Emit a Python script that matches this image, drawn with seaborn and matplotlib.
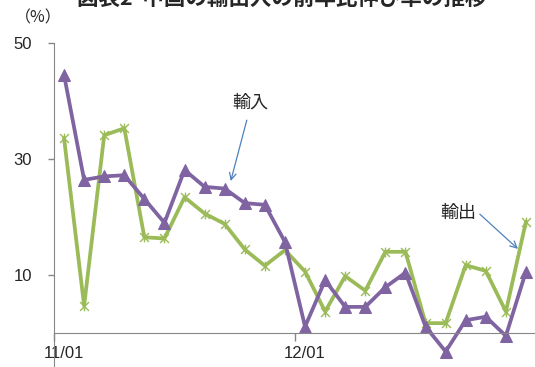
import matplotlib
matplotlib.use("Agg")
import matplotlib.pyplot as plt
from matplotlib.path import Path
import pandas as pd
import seaborn as sns

# monthly y/y growth, 2011/01 - 2012/12 (%)
months = pd.period_range("2011-01", "2012-12", freq="M").strftime("%y/%m").tolist()
imports = [44.5, 26.4, 27.0, 27.2, 23.1, 19.0, 28.1, 25.2, 24.9, 22.4, 22.1, 15.7,
           1.1, 9.1, 4.5, 4.5, 7.9, 10.4, 1.1, -3.2, 2.2, 2.8, -0.5, 10.6]
exports = [33.6, 4.7, 34.1, 35.3, 16.5, 16.3, 23.4, 20.6, 18.8, 14.4, 11.6, 14.3,
           10.6, 3.7, 9.8, 7.3, 14.0, 14.0, 1.7, 1.7, 11.7, 10.7, 3.7, 19.2]
tick_labels = ["11/01", "12/01"]
y_ticks = [10, 30, 50]

df = pd.DataFrame({"idx": range(len(months)), "month": months,
                   "輸入": imports, "輸出": exports})

sns.set_style("white")
plt.rcParams["font.family"] = ["Liberation Sans", "Noto Sans CJK JP", "DejaVu Sans"]

W, H = 535, 367
fig = plt.figure(figsize=(W / 100, H / 100), dpi=100)
ax = fig.add_axes([54 / W, 0, (536 - 54) / W, (367 - 43) / H])

star = Path([(-1, -1), (1, 1), (-1, 1), (1, -1), (0, -1.1), (0, 1.1)],
            [Path.MOVETO, Path.LINETO, Path.MOVETO, Path.LINETO, Path.MOVETO, Path.LINETO])

green = "#9BBB59"
purple = "#8064A2"
sns.lineplot(data=df, x="idx", y="輸出", ax=ax, color=green, lw=2.7,
             marker=star, markersize=7, markeredgewidth=1.0,
             markeredgecolor=green, markerfacecolor="none")
sns.lineplot(data=df, x="idx", y="輸入", ax=ax, color=purple, lw=2.7,
             marker="^", markersize=9, markeredgecolor=purple, markerfacecolor=purple)

ax.set_xlim(-0.5, len(months) - 0.5)
ax.set_ylim(-(367 - 333) / 5.8, 50)

axis_gray = "#868686"
for s in ["top", "right"]:
    ax.spines[s].set_visible(False)
ax.spines["left"].set_color(axis_gray)
ax.spines["bottom"].set_color(axis_gray)
ax.spines["bottom"].set_position(("data", 0))

ax.set_yticks(y_ticks)
ax.set_yticklabels([str(v) for v in y_ticks])
# labels centred on the January category, tick marks on the year boundary
ax.set_xticks([0, 12])
ax.set_xticklabels(tick_labels)
ax.set_xticks([-0.5, 11.5], minor=True)
ax.tick_params(axis="y", direction="out", length=4, width=1, color=axis_gray,
               labelsize=12, pad=12, left=True)
ax.tick_params(axis="x", which="major", length=0, labelsize=12, pad=9)
ax.tick_params(axis="x", which="minor", direction="out", length=6, width=1,
               color=axis_gray, bottom=True)
ax.set_xlabel("")
ax.set_ylabel("")

fig.text(38 / W, 1 - 18 / H, "（%）", fontsize=11.5, ha="center", va="center",
         family=["Noto Sans CJK JP"])
fig.text(282 / W, 1 - 9 / H, "図表2  中国の輸出入の前年比伸び率の推移", fontsize=15.5,
         fontweight="bold", ha="center", va="bottom", family=["Noto Sans CJK JP"])

arrow = dict(arrowstyle="->", color="#4F81BD", lw=0.9, mutation_scale=12,
             shrinkA=0, shrinkB=0)
ax.text(9.25, 39.7, "輸入", fontsize=13, ha="center", va="center",
        family=["Noto Sans CJK JP"])
ax.annotate("", xy=(8.3, 26.2), xytext=(9.1, 36.7), arrowprops=arrow)
ax.text(19.65, 20.7, "輸出", fontsize=13, ha="center", va="center",
        family=["Noto Sans CJK JP"])
ax.annotate("", xy=(22.6, 14.5), xytext=(20.7, 20.5), arrowprops=arrow)

fig.savefig("out.png", dpi=100)
